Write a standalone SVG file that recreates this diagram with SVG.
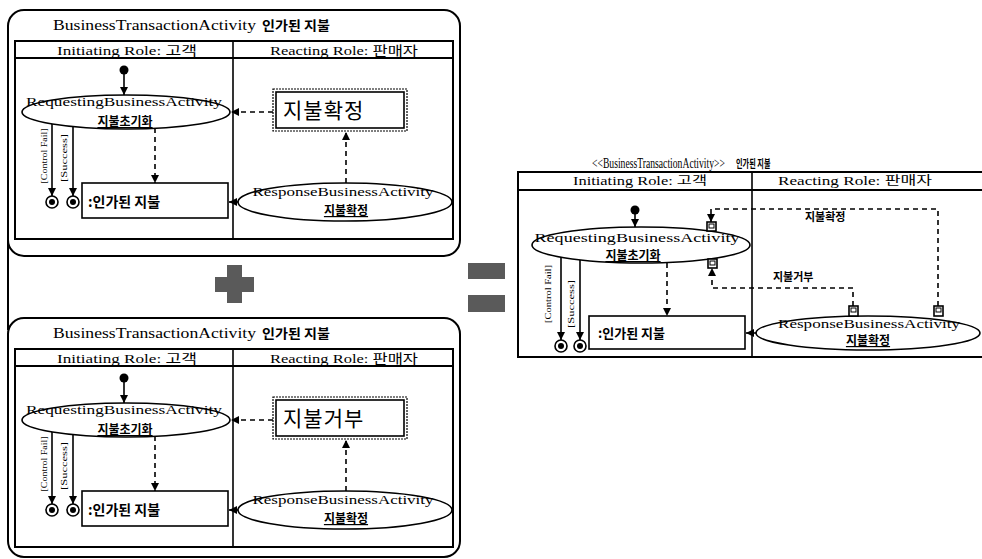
<svg xmlns="http://www.w3.org/2000/svg" width="982" height="559" viewBox="0 0 982 559">
<defs>
<style>
.ln{stroke:#000;stroke-width:1.6;fill:none}
.bd{stroke:#000;stroke-width:2;fill:none}
.dash{stroke:#000;stroke-width:1.6;fill:none;stroke-dasharray:5 4}
.t{font-family:"Liberation Serif","Noto Sans CJK KR",serif;fill:#000}
.k{font-family:"Noto Sans CJK KR","Noto Sans",sans-serif;font-weight:bold;fill:#000}
.nd{fill:#fff;stroke:#000;stroke-width:1.6}
.gr{fill:#5a5a5a}
</style>
<marker id="arr" markerUnits="userSpaceOnUse" markerWidth="9" markerHeight="9" refX="8" refY="4" orient="auto">
<path d="M0,0 L8,4 L0,8 z" fill="#000"/>
</marker>
</defs>
<rect width="982" height="559" fill="#fff"/>

<!-- left connecting border -->
<line class="bd" x1="8" y1="240" x2="8" y2="330"/>

<!-- TOP PANEL -->
<g id="panel1">
<g id="p1-frame">
<rect class="bd" x="8" y="10" width="452" height="246" rx="16"/>
<text class="t" x="53" y="30" font-size="14" textLength="203" lengthAdjust="spacingAndGlyphs">BusinessTransactionActivity</text>
<text class="k" x="262" y="30" font-size="13" textLength="68" lengthAdjust="spacingAndGlyphs">인가된 지불</text>
<rect class="bd" x="15" y="41" width="438" height="198"/>
<line class="bd" x1="15" y1="58" x2="453" y2="58"/>
<line class="ln" x1="233" y1="41" x2="233" y2="239"/>
<text class="t" x="127" y="55" font-size="13" text-anchor="middle" textLength="140" lengthAdjust="spacingAndGlyphs">Initiating Role: 고객</text>
<text class="t" x="344" y="55" font-size="13" text-anchor="middle" textLength="148" lengthAdjust="spacingAndGlyphs">Reacting Role: 판매자</text>
</g>
<g id="p1-start"><circle cx="124" cy="70" r="4.5" fill="#000"/></g>
<g id="p1-request">
<ellipse class="nd" cx="126" cy="112" rx="104" ry="17"/>
<text class="t" x="124" y="106" font-size="13" text-anchor="middle" textLength="196" lengthAdjust="spacingAndGlyphs">RequestingBusinessActivity</text>
<text class="k" x="125" y="126" font-size="12" text-anchor="middle" text-decoration="underline">지불초기화</text>
</g>
<g id="p1-confirm">
<rect x="273" y="89" width="134" height="42" fill="#fff" stroke="#000" stroke-width="1.2" stroke-dasharray="2 1"/>
<rect class="nd" x="276" y="92" width="128" height="36"/>
<text class="k" x="283" y="118" font-size="21" style="font-weight:normal" letter-spacing="1">지불확정</text>
</g>
<g id="p1-response">
<ellipse class="nd" cx="345" cy="202" rx="107" ry="19"/>
<text class="t" x="343" y="196" font-size="13" text-anchor="middle" textLength="181" lengthAdjust="spacingAndGlyphs">ResponseBusinessActivity</text>
<text class="k" x="346" y="215" font-size="12" text-anchor="middle" text-decoration="underline">지불확정</text>
</g>
<g id="p1-payment">
<rect class="nd" x="82" y="183" width="146" height="35"/>
<text class="k" x="88" y="207" font-size="14">:인가된 지불</text>
</g>
<g id="p1-final1"><circle cx="52" cy="202" r="6" class="nd"/><circle cx="52" cy="202" r="3" fill="#000"/></g>
<g id="p1-final2"><circle cx="73" cy="202" r="6" class="nd"/><circle cx="73" cy="202" r="3" fill="#000"/></g>
<g id="p1-connectors">
<line class="ln" x1="124" y1="74" x2="124" y2="95" stroke-width="3" marker-end="url(#arr)"/>
<line class="dash" x1="273" y1="112" x2="231" y2="112" marker-end="url(#arr)"/>
<line class="dash" x1="346" y1="183" x2="346" y2="132" marker-end="url(#arr)"/>
<line class="dash" x1="155" y1="128" x2="155" y2="183" marker-end="url(#arr)"/>
<line class="ln" x1="238" y1="202" x2="229" y2="202" marker-end="url(#arr)"/>
<line class="ln" x1="52" y1="124" x2="52" y2="196" marker-end="url(#arr)"/>
<line class="ln" x1="73" y1="127" x2="73" y2="196" marker-end="url(#arr)"/>
<text class="t" transform="translate(47,156) rotate(-90)" font-size="8" text-anchor="middle" textLength="55" lengthAdjust="spacingAndGlyphs">[Control Fail]</text>
<text class="t" transform="translate(67,158) rotate(-90)" font-size="8" text-anchor="middle" textLength="48" lengthAdjust="spacingAndGlyphs">[Success]</text>
</g>
</g>

<!-- PLUS / EQUALS -->
<g id="plus"><rect class="gr" x="215" y="277" width="39" height="15"/><rect class="gr" x="227" y="265" width="15" height="38"/></g>
<g id="equals"><rect class="gr" x="468" y="263" width="37" height="16"/><rect class="gr" x="468" y="295" width="37" height="17"/></g>

<!-- BOTTOM PANEL -->
<g id="panel2" transform="translate(0,308)">
<g id="p2-frame">
<rect class="bd" x="8" y="10" width="452" height="239" rx="16"/>
<text class="t" x="53" y="30" font-size="14" textLength="203" lengthAdjust="spacingAndGlyphs">BusinessTransactionActivity</text>
<text class="k" x="262" y="30" font-size="13" textLength="68" lengthAdjust="spacingAndGlyphs">인가된 지불</text>
<rect class="bd" x="15" y="41" width="438" height="198"/>
<line class="bd" x1="15" y1="58" x2="453" y2="58"/>
<line class="ln" x1="233" y1="41" x2="233" y2="239"/>
<text class="t" x="127" y="55" font-size="13" text-anchor="middle" textLength="140" lengthAdjust="spacingAndGlyphs">Initiating Role: 고객</text>
<text class="t" x="344" y="55" font-size="13" text-anchor="middle" textLength="148" lengthAdjust="spacingAndGlyphs">Reacting Role: 판매자</text>
</g>
<g id="p2-start"><circle cx="124" cy="70" r="4.5" fill="#000"/></g>
<g id="p2-request">
<ellipse class="nd" cx="126" cy="112" rx="104" ry="17"/>
<text class="t" x="124" y="106" font-size="13" text-anchor="middle" textLength="196" lengthAdjust="spacingAndGlyphs">RequestingBusinessActivity</text>
<text class="k" x="125" y="126" font-size="12" text-anchor="middle" text-decoration="underline">지불초기화</text>
</g>
<g id="p2-reject">
<rect x="273" y="89" width="134" height="42" fill="#fff" stroke="#000" stroke-width="1.2" stroke-dasharray="2 1"/>
<rect class="nd" x="276" y="92" width="128" height="36"/>
<text class="k" x="283" y="118" font-size="21" style="font-weight:normal" letter-spacing="1">지불거부</text>
</g>
<g id="p2-response">
<ellipse class="nd" cx="345" cy="202" rx="107" ry="19"/>
<text class="t" x="343" y="196" font-size="13" text-anchor="middle" textLength="181" lengthAdjust="spacingAndGlyphs">ResponseBusinessActivity</text>
<text class="k" x="346" y="215" font-size="12" text-anchor="middle" text-decoration="underline">지불확정</text>
</g>
<g id="p2-payment">
<rect class="nd" x="82" y="183" width="146" height="35"/>
<text class="k" x="88" y="207" font-size="14">:인가된 지불</text>
</g>
<g id="p2-final1"><circle cx="52" cy="202" r="6" class="nd"/><circle cx="52" cy="202" r="3" fill="#000"/></g>
<g id="p2-final2"><circle cx="73" cy="202" r="6" class="nd"/><circle cx="73" cy="202" r="3" fill="#000"/></g>
<g id="p2-connectors">
<line class="ln" x1="124" y1="74" x2="124" y2="95" stroke-width="3" marker-end="url(#arr)"/>
<line class="dash" x1="273" y1="112" x2="231" y2="112" marker-end="url(#arr)"/>
<line class="dash" x1="346" y1="183" x2="346" y2="132" marker-end="url(#arr)"/>
<line class="dash" x1="155" y1="128" x2="155" y2="183" marker-end="url(#arr)"/>
<line class="ln" x1="238" y1="202" x2="229" y2="202" marker-end="url(#arr)"/>
<line class="ln" x1="52" y1="124" x2="52" y2="196" marker-end="url(#arr)"/>
<line class="ln" x1="73" y1="127" x2="73" y2="196" marker-end="url(#arr)"/>
<text class="t" transform="translate(47,156) rotate(-90)" font-size="8" text-anchor="middle" textLength="55" lengthAdjust="spacingAndGlyphs">[Control Fail]</text>
<text class="t" transform="translate(67,158) rotate(-90)" font-size="8" text-anchor="middle" textLength="48" lengthAdjust="spacingAndGlyphs">[Success]</text>
</g>
</g>

<!-- RIGHT DIAGRAM -->
<g id="result">
<g id="r-frame">
<text class="t" transform="translate(592,168) scale(0.69,1)" font-size="14">&lt;&lt;BusinessTransactionActivity&gt;&gt;</text>
<text class="k" transform="translate(736,168) scale(0.65,1)" font-size="11">인가된 지불</text>
<rect class="bd" x="518" y="172" width="480" height="185"/>
<line class="bd" x1="518" y1="190" x2="982" y2="190"/>
<line class="ln" x1="752" y1="172" x2="752" y2="357"/>
<text class="t" x="640" y="185" font-size="12" text-anchor="middle" textLength="134" lengthAdjust="spacingAndGlyphs">Initiating Role: 고객</text>
<text class="t" x="855" y="185" font-size="12" text-anchor="middle" textLength="154" lengthAdjust="spacingAndGlyphs">Reacting Role: 판매자</text>
</g>
<g id="r-start"><circle cx="635" cy="210" r="4.5" fill="#000"/></g>
<g id="r-request">
<ellipse class="nd" cx="641" cy="245" rx="109" ry="18"/>
<text class="t" x="637" y="242" font-size="12" text-anchor="middle" textLength="205" lengthAdjust="spacingAndGlyphs">RequestingBusinessActivity</text>
<text class="k" x="633" y="260" font-size="12" text-anchor="middle" text-decoration="underline">지불초기화</text>
<rect class="nd" x="707" y="222" width="9" height="9" stroke-width="1.4"/>
<rect x="709" y="224" width="5" height="4" fill="none" stroke="#000" stroke-width="1"/>
<rect class="nd" x="708" y="259" width="9" height="9" stroke-width="1.4"/>
<rect x="710" y="261" width="5" height="4" fill="none" stroke="#000" stroke-width="1"/>
</g>
<g id="r-response">
<ellipse class="nd" cx="868" cy="333" rx="112" ry="17"/>
<text class="t" x="869" y="328" font-size="12" text-anchor="middle" textLength="182" lengthAdjust="spacingAndGlyphs">ResponseBusinessActivity</text>
<text class="k" x="868" y="345" font-size="12" text-anchor="middle" text-decoration="underline">지불확정</text>
<rect class="nd" x="849" y="306" width="9" height="10" stroke-width="1.4"/>
<rect x="851" y="308" width="5" height="4" fill="none" stroke="#000" stroke-width="1"/>
<rect class="nd" x="934" y="306" width="9" height="10" stroke-width="1.4"/>
<rect x="936" y="308" width="5" height="4" fill="none" stroke="#000" stroke-width="1"/>
</g>
<g id="r-payment">
<rect class="nd" x="589" y="316" width="156" height="33"/>
<text class="k" x="598" y="338" font-size="13">:인가된 지불</text>
</g>
<g id="r-final1"><circle cx="561" cy="346" r="6" class="nd"/><circle cx="561" cy="346" r="3" fill="#000"/></g>
<g id="r-final2"><circle cx="580" cy="346" r="6" class="nd"/><circle cx="580" cy="346" r="3" fill="#000"/></g>
<g id="r-connectors">
<line class="ln" x1="635" y1="214" x2="635" y2="227" stroke-width="2" marker-end="url(#arr)"/>
<path class="dash" d="M938,306 V209 H711 V222" marker-end="url(#arr)"/>
<path class="dash" d="M853,306 V288 H712 V268" marker-end="url(#arr)"/>
<text class="k" x="805" y="221" font-size="11">지불확정</text>
<text class="k" x="773" y="281" font-size="11">지불거부</text>
<line class="dash" x1="667" y1="263" x2="667" y2="316" marker-end="url(#arr)"/>
<line class="ln" x1="756" y1="333" x2="746" y2="333" marker-end="url(#arr)"/>
<line class="ln" x1="561" y1="257" x2="561" y2="340" marker-end="url(#arr)"/>
<line class="ln" x1="580" y1="260" x2="580" y2="340" marker-end="url(#arr)"/>
<text class="t" transform="translate(551,294) rotate(-90)" font-size="8" text-anchor="middle" textLength="58" lengthAdjust="spacingAndGlyphs">[Control Fail]</text>
<text class="t" transform="translate(574,304) rotate(-90)" font-size="8" text-anchor="middle" textLength="48" lengthAdjust="spacingAndGlyphs">[Success]</text>
</g>
</g>
</svg>
